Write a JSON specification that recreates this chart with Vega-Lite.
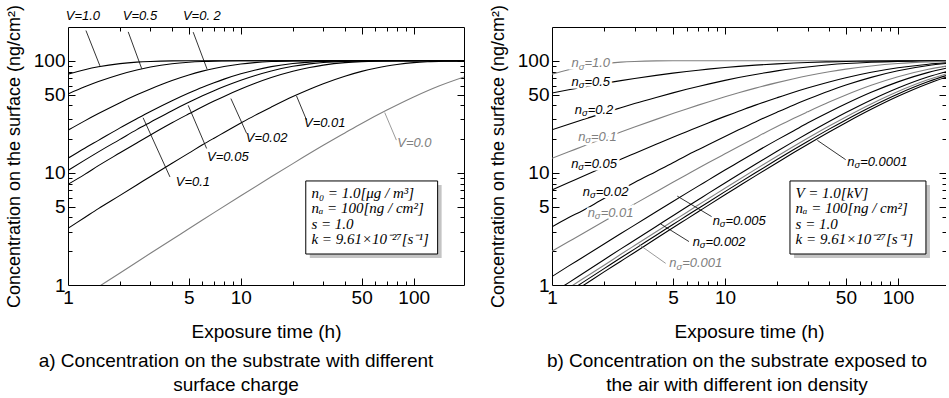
{
"$schema": "https://vega.github.io/schema/vega-lite/v6.json",
"padding": {"left": 5, "top": 4, "right": 0, "bottom": 0},
"config": {"view": {"stroke": null}, "axis": {"labelFont": "Liberation Sans", "titleFont": "Liberation Sans", "grid": false, "labelColor": "#000", "titleColor": "#000", "domainColor": "#000", "tickColor": "#000"}, "title": {"font": "Liberation Sans"}},
"spacing": 25,
"resolve": {"scale": {"x": "independent", "y": "independent", "color": "independent"}},
"datasets": {
"curvesA": [
{"series":"V=1.0","t":1,"v":76.0},{"series":"V=1.0","t":1.25,"v":83.2},{"series":"V=1.0","t":1.5,"v":88.3},{"series":"V=1.0","t":2,"v":94.3},{"series":"V=1.0","t":2.5,"v":97.2},{"series":"V=1.0","t":3,"v":98.6},{"series":"V=1.0","t":4,"v":99.7},{"series":"V=1.0","t":5,"v":99.9},{"series":"V=1.0","t":10,"v":100},{"series":"V=1.0","t":195.5,"v":100},
{"series":"V=0.5","t":1,"v":50.5},{"series":"V=0.5","t":1.25,"v":58.5},{"series":"V=0.5","t":1.5,"v":65.2},{"series":"V=0.5","t":2,"v":75.5},{"series":"V=0.5","t":2.5,"v":82.8},{"series":"V=0.5","t":3,"v":87.9},{"series":"V=0.5","t":4,"v":94.0},{"series":"V=0.5","t":5,"v":97.0},{"series":"V=0.5","t":6,"v":98.5},{"series":"V=0.5","t":7,"v":99.3},{"series":"V=0.5","t":8,"v":99.6},{"series":"V=0.5","t":10,"v":99.9},{"series":"V=0.5","t":15,"v":100},{"series":"V=0.5","t":195.5,"v":100},
{"series":"V=0.2","t":1,"v":24.0},{"series":"V=0.2","t":1.25,"v":29.1},{"series":"V=0.2","t":1.5,"v":33.8},{"series":"V=0.2","t":2,"v":42.3},{"series":"V=0.2","t":2.5,"v":49.7},{"series":"V=0.2","t":3,"v":56.1},{"series":"V=0.2","t":4,"v":66.7},{"series":"V=0.2","t":5,"v":74.7},{"series":"V=0.2","t":6,"v":80.8},{"series":"V=0.2","t":7,"v":85.4},{"series":"V=0.2","t":8,"v":88.9},{"series":"V=0.2","t":10,"v":93.6},{"series":"V=0.2","t":12,"v":96.3},{"series":"V=0.2","t":15,"v":98.4},{"series":"V=0.2","t":20,"v":99.6},{"series":"V=0.2","t":25,"v":99.9},{"series":"V=0.2","t":30,"v":100},{"series":"V=0.2","t":195.5,"v":100},
{"series":"V=0.1","t":1,"v":13.5},{"series":"V=0.1","t":1.25,"v":16.6},{"series":"V=0.1","t":1.5,"v":19.5},{"series":"V=0.1","t":2,"v":25.2},{"series":"V=0.1","t":2.5,"v":30.4},{"series":"V=0.1","t":3,"v":35.3},{"series":"V=0.1","t":4,"v":44.0},{"series":"V=0.1","t":5,"v":51.5},{"series":"V=0.1","t":6,"v":58.1},{"series":"V=0.1","t":7,"v":63.7},{"series":"V=0.1","t":8,"v":68.6},{"series":"V=0.1","t":10,"v":76.5},{"series":"V=0.1","t":12,"v":82.4},{"series":"V=0.1","t":15,"v":88.6},{"series":"V=0.1","t":20,"v":94.5},{"series":"V=0.1","t":25,"v":97.3},{"series":"V=0.1","t":30,"v":98.7},{"series":"V=0.1","t":40,"v":99.7},{"series":"V=0.1","t":50,"v":99.9},{"series":"V=0.1","t":60,"v":100},{"series":"V=0.1","t":195.5,"v":100},
{"series":"V=0.05","t":1,"v":10.5},{"series":"V=0.05","t":1.25,"v":13.0},{"series":"V=0.05","t":1.5,"v":15.4},{"series":"V=0.05","t":2,"v":19.9},{"series":"V=0.05","t":2.5,"v":24.3},{"series":"V=0.05","t":3,"v":28.3},{"series":"V=0.05","t":4,"v":35.9},{"series":"V=0.05","t":5,"v":42.6},{"series":"V=0.05","t":6,"v":48.7},{"series":"V=0.05","t":7,"v":54.1},{"series":"V=0.05","t":8,"v":58.9},{"series":"V=0.05","t":10,"v":67.1},{"series":"V=0.05","t":12,"v":73.6},{"series":"V=0.05","t":15,"v":81.1},{"series":"V=0.05","t":20,"v":89.2},{"series":"V=0.05","t":25,"v":93.8},{"series":"V=0.05","t":30,"v":96.4},{"series":"V=0.05","t":40,"v":98.8},{"series":"V=0.05","t":50,"v":99.6},{"series":"V=0.05","t":60,"v":99.9},{"series":"V=0.05","t":80,"v":100},{"series":"V=0.05","t":195.5,"v":100},
{"series":"V=0.02","t":1,"v":7.9},{"series":"V=0.02","t":1.25,"v":9.7},{"series":"V=0.02","t":1.5,"v":11.6},{"series":"V=0.02","t":2,"v":15.1},{"series":"V=0.02","t":2.5,"v":18.5},{"series":"V=0.02","t":3,"v":21.8},{"series":"V=0.02","t":4,"v":28.0},{"series":"V=0.02","t":5,"v":33.6},{"series":"V=0.02","t":6,"v":38.9},{"series":"V=0.02","t":7,"v":43.7},{"series":"V=0.02","t":8,"v":48.1},{"series":"V=0.02","t":10,"v":55.9},{"series":"V=0.02","t":12,"v":62.6},{"series":"V=0.02","t":15,"v":70.8},{"series":"V=0.02","t":20,"v":80.6},{"series":"V=0.02","t":25,"v":87.1},{"series":"V=0.02","t":30,"v":91.4},{"series":"V=0.02","t":40,"v":96.2},{"series":"V=0.02","t":50,"v":98.3},{"series":"V=0.02","t":60,"v":99.3},{"series":"V=0.02","t":70,"v":99.7},{"series":"V=0.02","t":80,"v":99.9},{"series":"V=0.02","t":100,"v":100},{"series":"V=0.02","t":195.5,"v":100},
{"series":"V=0.01","t":1,"v":3.2},{"series":"V=0.01","t":1.25,"v":4.0},{"series":"V=0.01","t":1.5,"v":4.8},{"series":"V=0.01","t":2,"v":6.3},{"series":"V=0.01","t":2.5,"v":7.8},{"series":"V=0.01","t":3,"v":9.3},{"series":"V=0.01","t":4,"v":12.2},{"series":"V=0.01","t":5,"v":15.0},{"series":"V=0.01","t":6,"v":17.8},{"series":"V=0.01","t":7,"v":20.4},{"series":"V=0.01","t":8,"v":22.9},{"series":"V=0.01","t":10,"v":27.8},{"series":"V=0.01","t":12,"v":32.4},{"series":"V=0.01","t":15,"v":38.6},{"series":"V=0.01","t":20,"v":47.9},{"series":"V=0.01","t":25,"v":55.7},{"series":"V=0.01","t":30,"v":62.4},{"series":"V=0.01","t":40,"v":72.8},{"series":"V=0.01","t":50,"v":80.4},{"series":"V=0.01","t":60,"v":85.8},{"series":"V=0.01","t":70,"v":89.8},{"series":"V=0.01","t":80,"v":92.6},{"series":"V=0.01","t":100,"v":96.2},{"series":"V=0.01","t":120,"v":98.0},{"series":"V=0.01","t":150,"v":99.2},{"series":"V=0.01","t":195.5,"v":99.8},
{"series":"V=0.0","t":1,"v":0.643},{"series":"V=0.0","t":1.5,"v":0.963},{"series":"V=0.0","t":2,"v":1.28},{"series":"V=0.0","t":3,"v":1.92},{"series":"V=0.0","t":4,"v":2.55},{"series":"V=0.0","t":5,"v":3.17},{"series":"V=0.0","t":7,"v":4.42},{"series":"V=0.0","t":10,"v":6.25},{"series":"V=0.0","t":15,"v":9.22},{"series":"V=0.0","t":20,"v":12.1},{"series":"V=0.0","t":30,"v":17.6},{"series":"V=0.0","t":40,"v":22.7},{"series":"V=0.0","t":50,"v":27.6},{"series":"V=0.0","t":70,"v":36.3},{"series":"V=0.0","t":100,"v":47.5},{"series":"V=0.0","t":140,"v":59.5},{"series":"V=0.0","t":195.5,"v":71.7}
],
"labelsA": [
{"series":"V=1.0","label":"V=1.0","t":1.22,"v":253},
{"series":"V=0.5","label":"V=0.5","t":2.61,"v":253},
{"series":"V=0.2","label":"V=0. 2","t":5.95,"v":253},
{"series":"V=0.1","label":"V=0.1","t":5.28,"v":8.22},
{"series":"V=0.05","label":"V=0.05","t":8.41,"v":13.8},
{"series":"V=0.02","label":"V=0.02","t":14.1,"v":20.4},
{"series":"V=0.01","label":"V=0.01","t":30.6,"v":27.8},
{"series":"V=0.0","label":"V=0.0","t":101,"v":18.4}
],
"leadersA": [
{"series":"V=1.0","t":1.27,"v":186,"t2":1.53,"v2":90},
{"series":"V=0.5","t":2.23,"v":181,"t2":2.67,"v2":85},
{"series":"V=0.2","t":5.3,"v":180,"t2":6.38,"v2":84},
{"series":"V=0.1","t":3.89,"v":9.2,"t2":2.72,"v2":31},
{"series":"V=0.05","t":6.34,"v":16.5,"t2":4.96,"v2":40},
{"series":"V=0.02","t":10.8,"v":22.5,"t2":8.76,"v2":46},
{"series":"V=0.01","t":24,"v":29.6,"t2":21,"v2":48.5},
{"series":"V=0.0","t":79.4,"v":19.6,"t2":68,"v2":34.5}
],
"curvesB": [
{"series":"n=1.0","t":1,"v":76.0},{"series":"n=1.0","t":1.25,"v":83.2},{"series":"n=1.0","t":1.5,"v":88.3},{"series":"n=1.0","t":2,"v":94.3},{"series":"n=1.0","t":2.5,"v":97.2},{"series":"n=1.0","t":3,"v":98.6},{"series":"n=1.0","t":4,"v":99.7},{"series":"n=1.0","t":5,"v":99.9},{"series":"n=1.0","t":10,"v":100},{"series":"n=1.0","t":189.5,"v":100},
{"series":"n=0.5","t":1,"v":51.5},{"series":"n=0.5","t":1.25,"v":55.1},{"series":"n=0.5","t":1.5,"v":58.0},{"series":"n=0.5","t":2,"v":62.8},{"series":"n=0.5","t":2.5,"v":66.5},{"series":"n=0.5","t":3,"v":69.5},{"series":"n=0.5","t":4,"v":74.1},{"series":"n=0.5","t":5,"v":77.5},{"series":"n=0.5","t":6,"v":80.2},{"series":"n=0.5","t":7,"v":82.4},{"series":"n=0.5","t":8,"v":84.2},{"series":"n=0.5","t":10,"v":87.0},{"series":"n=0.5","t":12,"v":89.1},{"series":"n=0.5","t":15,"v":91.4},{"series":"n=0.5","t":20,"v":93.8},{"series":"n=0.5","t":25,"v":95.4},{"series":"n=0.5","t":30,"v":96.5},{"series":"n=0.5","t":40,"v":97.8},{"series":"n=0.5","t":50,"v":98.5},{"series":"n=0.5","t":70,"v":99.25},{"series":"n=0.5","t":100,"v":99.7},{"series":"n=0.5","t":150,"v":99.9},{"series":"n=0.5","t":189.5,"v":100},
{"series":"n=0.2","t":1,"v":24.2},{"series":"n=0.2","t":1.25,"v":27.1},{"series":"n=0.2","t":1.5,"v":29.8},{"series":"n=0.2","t":2,"v":34.3},{"series":"n=0.2","t":2.5,"v":38.1},{"series":"n=0.2","t":3,"v":41.5},{"series":"n=0.2","t":4,"v":47.1},{"series":"n=0.2","t":5,"v":51.7},{"series":"n=0.2","t":6,"v":55.6},{"series":"n=0.2","t":7,"v":59.0},{"series":"n=0.2","t":8,"v":61.9},{"series":"n=0.2","t":10,"v":66.8},{"series":"n=0.2","t":12,"v":70.8},{"series":"n=0.2","t":15,"v":75.5},{"series":"n=0.2","t":20,"v":81.2},{"series":"n=0.2","t":25,"v":85.2},{"series":"n=0.2","t":30,"v":88.1},{"series":"n=0.2","t":40,"v":92.1},{"series":"n=0.2","t":50,"v":94.5},{"series":"n=0.2","t":70,"v":97.1},{"series":"n=0.2","t":100,"v":98.8},{"series":"n=0.2","t":150,"v":99.6},{"series":"n=0.2","t":189.5,"v":99.8},
{"series":"n=0.1","t":1,"v":13.5},{"series":"n=0.1","t":1.25,"v":15.4},{"series":"n=0.1","t":1.5,"v":17.2},{"series":"n=0.1","t":2,"v":20.3},{"series":"n=0.1","t":2.5,"v":23.1},{"series":"n=0.1","t":3,"v":25.6},{"series":"n=0.1","t":4,"v":30.0},{"series":"n=0.1","t":5,"v":33.8},{"series":"n=0.1","t":6,"v":37.2},{"series":"n=0.1","t":7,"v":40.2},{"series":"n=0.1","t":8,"v":42.9},{"series":"n=0.1","t":10,"v":47.7},{"series":"n=0.1","t":12,"v":51.8},{"series":"n=0.1","t":15,"v":57.0},{"series":"n=0.1","t":20,"v":63.8},{"series":"n=0.1","t":25,"v":69.1},{"series":"n=0.1","t":30,"v":73.4},{"series":"n=0.1","t":40,"v":79.7},{"series":"n=0.1","t":50,"v":84.2},{"series":"n=0.1","t":70,"v":89.9},{"series":"n=0.1","t":100,"v":94.5},{"series":"n=0.1","t":150,"v":97.7},{"series":"n=0.1","t":189.5,"v":98.75},
{"series":"n=0.05","t":1,"v":7.05},{"series":"n=0.05","t":1.25,"v":8.2},{"series":"n=0.05","t":1.5,"v":9.3},{"series":"n=0.05","t":2,"v":11.3},{"series":"n=0.05","t":2.5,"v":13.2},{"series":"n=0.05","t":3,"v":14.9},{"series":"n=0.05","t":4,"v":18.0},{"series":"n=0.05","t":5,"v":20.8},{"series":"n=0.05","t":6,"v":23.3},{"series":"n=0.05","t":7,"v":25.7},{"series":"n=0.05","t":8,"v":27.9},{"series":"n=0.05","t":10,"v":31.9},{"series":"n=0.05","t":12,"v":35.4},{"series":"n=0.05","t":15,"v":40.2},{"series":"n=0.05","t":20,"v":46.8},{"series":"n=0.05","t":25,"v":52.4},{"series":"n=0.05","t":30,"v":57.1},{"series":"n=0.05","t":40,"v":64.7},{"series":"n=0.05","t":50,"v":70.5},{"series":"n=0.05","t":70,"v":78.9},{"series":"n=0.05","t":100,"v":86.6},{"series":"n=0.05","t":150,"v":93.2},{"series":"n=0.05","t":189.5,"v":95.9},
{"series":"n=0.02","t":1,"v":3.3},{"series":"n=0.02","t":1.25,"v":4.0},{"series":"n=0.02","t":1.5,"v":4.6},{"series":"n=0.02","t":2,"v":5.9},{"series":"n=0.02","t":2.5,"v":7.05},{"series":"n=0.02","t":3,"v":8.2},{"series":"n=0.02","t":4,"v":10.3},{"series":"n=0.02","t":5,"v":12.3},{"series":"n=0.02","t":6,"v":14.3},{"series":"n=0.02","t":7,"v":16.1},{"series":"n=0.02","t":8,"v":17.8},{"series":"n=0.02","t":10,"v":21.1},{"series":"n=0.02","t":12,"v":24.2},{"series":"n=0.02","t":15,"v":28.5},{"series":"n=0.02","t":20,"v":34.8},{"series":"n=0.02","t":25,"v":40.4},{"series":"n=0.02","t":30,"v":45.3},{"series":"n=0.02","t":40,"v":53.8},{"series":"n=0.02","t":50,"v":60.7},{"series":"n=0.02","t":70,"v":71.1},{"series":"n=0.02","t":100,"v":81.4},{"series":"n=0.02","t":150,"v":90.7},{"series":"n=0.02","t":189.5,"v":94.5},
{"series":"n=0.01","t":1,"v":2.0},{"series":"n=0.01","t":1.25,"v":2.44},{"series":"n=0.01","t":1.5,"v":2.87},{"series":"n=0.01","t":2,"v":3.70},{"series":"n=0.01","t":2.5,"v":4.50},{"series":"n=0.01","t":3,"v":5.28},{"series":"n=0.01","t":4,"v":6.79},{"series":"n=0.01","t":5,"v":8.24},{"series":"n=0.01","t":6,"v":9.63},{"series":"n=0.01","t":7,"v":10.99},{"series":"n=0.01","t":8,"v":12.3},{"series":"n=0.01","t":10,"v":14.8},{"series":"n=0.01","t":12,"v":17.2},{"series":"n=0.01","t":15,"v":20.6},{"series":"n=0.01","t":20,"v":25.9},{"series":"n=0.01","t":25,"v":30.7},{"series":"n=0.01","t":30,"v":35.0},{"series":"n=0.01","t":40,"v":42.8},{"series":"n=0.01","t":50,"v":49.5},{"series":"n=0.01","t":70,"v":60.4},{"series":"n=0.01","t":100,"v":72.0},{"series":"n=0.01","t":150,"v":84.0},{"series":"n=0.01","t":189.5,"v":89.6},
{"series":"n=0.005","t":1,"v":1.19},{"series":"n=0.005","t":1.25,"v":1.48},{"series":"n=0.005","t":1.5,"v":1.76},{"series":"n=0.005","t":2,"v":2.32},{"series":"n=0.005","t":2.5,"v":2.88},{"series":"n=0.005","t":3,"v":3.42},{"series":"n=0.005","t":4,"v":4.50},{"series":"n=0.005","t":5,"v":5.56},{"series":"n=0.005","t":6,"v":6.60},{"series":"n=0.005","t":7,"v":7.62},{"series":"n=0.005","t":8,"v":8.62},{"series":"n=0.005","t":10,"v":10.6},{"series":"n=0.005","t":12,"v":12.5},{"series":"n=0.005","t":15,"v":15.3},{"series":"n=0.005","t":20,"v":19.7},{"series":"n=0.005","t":25,"v":23.8},{"series":"n=0.005","t":30,"v":27.8},{"series":"n=0.005","t":40,"v":34.9},{"series":"n=0.005","t":50,"v":41.3},{"series":"n=0.005","t":70,"v":52.3},{"series":"n=0.005","t":100,"v":64.8},{"series":"n=0.005","t":150,"v":78.8},{"series":"n=0.005","t":189.5,"v":85.7},
{"series":"n=0.002","t":1,"v":0.844},{"series":"n=0.002","t":1.25,"v":1.05},{"series":"n=0.002","t":1.5,"v":1.26},{"series":"n=0.002","t":2,"v":1.68},{"series":"n=0.002","t":2.5,"v":2.10},{"series":"n=0.002","t":3,"v":2.51},{"series":"n=0.002","t":4,"v":3.33},{"series":"n=0.002","t":5,"v":4.15},{"series":"n=0.002","t":6,"v":4.96},{"series":"n=0.002","t":7,"v":5.76},{"series":"n=0.002","t":8,"v":6.56},{"series":"n=0.002","t":10,"v":8.12},{"series":"n=0.002","t":12,"v":9.67},{"series":"n=0.002","t":15,"v":11.94},{"series":"n=0.002","t":20,"v":15.59},{"series":"n=0.002","t":25,"v":19.09},{"series":"n=0.002","t":30,"v":22.45},{"series":"n=0.002","t":40,"v":28.75},{"series":"n=0.002","t":50,"v":34.54},{"series":"n=0.002","t":70,"v":44.75},{"series":"n=0.002","t":100,"v":57.15},{"series":"n=0.002","t":150,"v":71.95},{"series":"n=0.002","t":189.5,"v":79.93},
{"series":"n=0.001","t":1,"v":0.755},{"series":"n=0.001","t":1.5,"v":1.13},{"series":"n=0.001","t":2,"v":1.50},{"series":"n=0.001","t":2.5,"v":1.88},{"series":"n=0.001","t":3,"v":2.25},{"series":"n=0.001","t":4,"v":2.98},{"series":"n=0.001","t":5,"v":3.72},{"series":"n=0.001","t":6,"v":4.44},{"series":"n=0.001","t":7,"v":5.17},{"series":"n=0.001","t":8,"v":5.88},{"series":"n=0.001","t":10,"v":7.30},{"series":"n=0.001","t":12,"v":8.69},{"series":"n=0.001","t":15,"v":10.74},{"series":"n=0.001","t":20,"v":14.06},{"series":"n=0.001","t":25,"v":17.26},{"series":"n=0.001","t":30,"v":20.33},{"series":"n=0.001","t":40,"v":26.14},{"series":"n=0.001","t":50,"v":31.53},{"series":"n=0.001","t":70,"v":41.16},{"series":"n=0.001","t":100,"v":53.13},{"series":"n=0.001","t":150,"v":67.9},{"series":"n=0.001","t":189.5,"v":76.21},
{"series":"n=0.0005","t":1,"v":0.70},{"series":"n=0.0005","t":1.5,"v":1.05},{"series":"n=0.0005","t":2,"v":1.40},{"series":"n=0.0005","t":2.5,"v":1.75},{"series":"n=0.0005","t":3,"v":2.09},{"series":"n=0.0005","t":4,"v":2.78},{"series":"n=0.0005","t":5,"v":3.46},{"series":"n=0.0005","t":6,"v":4.14},{"series":"n=0.0005","t":7,"v":4.81},{"series":"n=0.0005","t":8,"v":5.48},{"series":"n=0.0005","t":10,"v":6.80},{"series":"n=0.0005","t":12,"v":8.10},{"series":"n=0.0005","t":15,"v":10.02},{"series":"n=0.0005","t":20,"v":13.14},{"series":"n=0.0005","t":25,"v":16.14},{"series":"n=0.0005","t":30,"v":19.04},{"series":"n=0.0005","t":40,"v":24.55},{"series":"n=0.0005","t":50,"v":29.68},{"series":"n=0.0005","t":70,"v":38.92},{"series":"n=0.0005","t":100,"v":50.55},{"series":"n=0.0005","t":150,"v":65.23},{"series":"n=0.0005","t":189.5,"v":73.67},
{"series":"n=0.0001","t":1,"v":0.656},{"series":"n=0.0001","t":1.5,"v":0.98},{"series":"n=0.0001","t":2,"v":1.31},{"series":"n=0.0001","t":2.5,"v":1.63},{"series":"n=0.0001","t":3,"v":1.95},{"series":"n=0.0001","t":4,"v":2.60},{"series":"n=0.0001","t":5,"v":3.24},{"series":"n=0.0001","t":6,"v":3.87},{"series":"n=0.0001","t":7,"v":4.50},{"series":"n=0.0001","t":8,"v":5.13},{"series":"n=0.0001","t":10,"v":6.37},{"series":"n=0.0001","t":12,"v":7.59},{"series":"n=0.0001","t":15,"v":9.40},{"series":"n=0.0001","t":20,"v":12.33},{"series":"n=0.0001","t":25,"v":15.17},{"series":"n=0.0001","t":30,"v":17.91},{"series":"n=0.0001","t":40,"v":23.14},{"series":"n=0.0001","t":50,"v":28.03},{"series":"n=0.0001","t":70,"v":36.9},{"series":"n=0.0001","t":100,"v":48.21},{"series":"n=0.0001","t":150,"v":62.73},{"series":"n=0.0001","t":189.5,"v":71.25}
],
"labelsB": [
{"series":"n=1.0","rest":"=1.0","t":1.481,"v":95.3},
{"series":"n=0.5","rest":"=0.5","t":1.481,"v":65.3},
{"series":"n=0.2","rest":"=0.2","t":1.547,"v":36.5},
{"series":"n=0.1","rest":"=0.1","t":1.617,"v":21.1},
{"series":"n=0.05","rest":"=0.05","t":1.475,"v":12.0},
{"series":"n=0.02","rest":"=0.02","t":1.720,"v":6.81},
{"series":"n=0.01","rest":"=0.01","t":1.838,"v":4.42},
{"series":"n=0.005","rest":"=0.005","t":9.686,"v":3.75},
{"series":"n=0.002","rest":"=0.002","t":7.419,"v":2.44},
{"series":"n=0.001","rest":"=0.001","t":5.442,"v":1.56},
{"series":"n=0.0001","rest":"=0.0001","t":58.15,"v":12.6}
],
"leadersB": [
{"series":"n=0.005","t":5.30,"v":6.2,"t2":8.38,"v2":4.07},
{"series":"n=0.002","t":4.25,"v":3.5,"t2":6.19,"v2":2.44},
{"series":"n=0.001","t":3.18,"v":2.3,"t2":4.54,"v2":1.56},
{"series":"n=0.0001","t":34.2,"v":19.5,"t2":49.9,"v2":13.1}
]
},
"hconcat": [
{
"width": 396, "height": 258,
"title": {"text": ["a) Concentration on the substrate with different", "surface charge"], "orient": "bottom", "anchor": "middle", "frame": "group", "dx": -30, "fontSize": 19, "fontWeight": "normal", "color": "#000", "lineHeight": 24, "offset": 11},
"resolve": {"axis": {"x": "independent", "y": "independent"}},
"layer": [
{"data": {"name": "curvesA"},
 "mark": {"type": "line", "clip": true, "strokeWidth": 1.1, "interpolate": "monotone"},
 "encoding": {
  "x": {"field": "t", "type": "quantitative", "scale": {"type": "log", "domain": [1, 195.5], "nice": false},
        "axis": {"orient": "bottom", "values": [1,5,10,50,100], "format": "d", "ticks": false, "domain": true, "domainWidth": 1, "labelFontSize": 19, "labelPadding": 3, "labelFlush": false, "labelOverlap": false, "title": "Exposure time (h)", "titleFontSize": 19, "titleFontWeight": "normal", "titlePadding": 15}},
  "y": {"field": "v", "type": "quantitative", "scale": {"type": "log", "domain": [1, 200], "nice": false},
        "axis": {"orient": "left", "values": [1,5,10,50,100], "format": "d", "ticks": false, "domain": true, "domainWidth": 1, "labelFontSize": 19, "labelPadding": 3, "labelFlush": false, "labelOverlap": false, "title": "Concentration on the surface (ng/cm²)", "titleFontSize": 18, "titleFontWeight": "normal", "titlePadding": 10}},
  "color": {"field": "series", "type": "nominal", "legend": null, "scale": {"domain": ["V=1.0","V=0.5","V=0.2","V=0.1","V=0.05","V=0.02","V=0.01","V=0.0"], "range": ["#000","#000","#000","#000","#000","#000","#000","#808080"]}}
 }},
{"data": {"name": "leadersA"},
 "mark": {"type": "rule", "strokeWidth": 0.8},
 "encoding": {
  "x": {"field": "t", "type": "quantitative", "axis": {"orient": "bottom", "values": [5,10,50,100], "labels": false, "domain": false, "ticks": false, "grid": true, "gridColor": "#000", "gridOpacity": 1, "gridWidth": 1, "gridDash": [7,244,7,0], "title": null}},
  "y": {"field": "v", "type": "quantitative", "axis": {"orient": "left", "values": [5,10,50,100], "labels": false, "domain": false, "ticks": false, "grid": true, "gridColor": "#000", "gridOpacity": 1, "gridWidth": 1, "gridDash": [7,382,7,0], "title": null}},
  "x2": {"field": "t2"}, "y2": {"field": "v2"},
  "color": {"field": "series", "type": "nominal", "legend": null}
 }},
{"data": {"name": "labelsA"},
 "mark": {"type": "text", "font": "Liberation Sans", "fontStyle": "italic", "fontSize": 13, "align": "center", "baseline": "middle"},
 "encoding": {
  "x": {"field": "t", "type": "quantitative", "axis": {"orient": "bottom", "values": [2,3,4,6,7,8,9,20,30,40,60,70,80,90], "labels": false, "domain": false, "ticks": false, "grid": true, "gridColor": "#000", "gridOpacity": 1, "gridWidth": 1, "gridDash": [4,250,4,0], "title": null}},
  "y": {"field": "v", "type": "quantitative", "axis": {"orient": "left", "values": [2,3,4,6,7,8,9,20,30,40,60,70,80,90], "labels": false, "domain": false, "ticks": false, "grid": true, "gridColor": "#000", "gridOpacity": 1, "gridWidth": 1, "gridDash": [4,388,4,0], "title": null}},
  "text": {"field": "label"},
  "color": {"field": "series", "type": "nominal", "legend": null}
 }},
{"data": {"values": [{}]},
 "mark": {"type": "rect", "color": "#c4c4c4"},
 "encoding": {
  "x": {"datum": 25.05, "type": "quantitative", "axis": null},
  "x2": {"datum": 145.1},
  "y": {"datum": 7.80, "type": "quantitative", "axis": null},
  "y2": {"datum": 1.74}
 }},
{"data": {"values": [{}]},
 "mark": {"type": "rect", "fill": "#fff", "stroke": "#000", "strokeWidth": 1},
 "encoding": {
  "x": {"datum": 23.75, "type": "quantitative", "axis": null},
  "x2": {"datum": 137.6},
  "y": {"datum": 8.47, "type": "quantitative", "axis": null},
  "y2": {"datum": 1.89}
 }},
{"data": {"values": [{}]},
 "mark": {"type": "text", "text": ["n₀ = 1.0[μg / m³]", "nₐ = 100[ng / cm²]", "s = 1.0", "k = 9.61×10⁻²⁷[s⁻¹]"], "font": "Liberation Serif", "fontStyle": "italic", "fontSize": 15, "lineHeight": 15.3, "align": "left", "baseline": "middle", "color": "#000"},
 "encoding": {
  "x": {"datum": 25.6, "type": "quantitative", "axis": {"orient": "top", "values": [1], "labels": false, "ticks": false, "domain": true, "domainWidth": 1, "title": null}},
  "y": {"datum": 6.62, "type": "quantitative", "axis": {"orient": "right", "values": [1], "labels": false, "ticks": false, "domain": true, "domainWidth": 1, "title": null}}
 }}
]
},
{
"width": 394, "height": 258,
"title": {"text": ["b) Concentration on the substrate exposed to", "the air with different ion density"], "orient": "bottom", "anchor": "middle", "frame": "group", "dx": -12, "fontSize": 19, "fontWeight": "normal", "color": "#000", "lineHeight": 24, "offset": 11},
"resolve": {"axis": {"x": "independent", "y": "independent"}},
"layer": [
{"data": {"name": "curvesB"},
 "mark": {"type": "line", "clip": true, "strokeWidth": 1.1, "interpolate": "monotone"},
 "encoding": {
  "x": {"field": "t", "type": "quantitative", "scale": {"type": "log", "domain": [1, 189.5], "nice": false},
        "axis": {"orient": "bottom", "values": [1,5,10,50,100], "format": "d", "ticks": false, "domain": true, "domainWidth": 1, "labelFontSize": 19, "labelPadding": 3, "labelFlush": false, "labelOverlap": false, "title": "Exposure time (h)", "titleFontSize": 19, "titleFontWeight": "normal", "titlePadding": 15}},
  "y": {"field": "v", "type": "quantitative", "scale": {"type": "log", "domain": [1, 200], "nice": false},
        "axis": {"orient": "left", "values": [1,5,10,50,100], "format": "d", "ticks": false, "domain": true, "domainWidth": 1, "labelFontSize": 19, "labelPadding": 3, "labelFlush": false, "labelOverlap": false, "title": "Concentration on the surface (ng/cm²)", "titleFontSize": 18, "titleFontWeight": "normal", "titlePadding": 10}},
  "color": {"field": "series", "type": "nominal", "legend": null, "scale": {"domain": ["n=1.0","n=0.5","n=0.2","n=0.1","n=0.05","n=0.02","n=0.01","n=0.005","n=0.002","n=0.001","n=0.0005","n=0.0001"], "range": ["#808080","#000","#000","#808080","#000","#000","#808080","#000","#000","#808080","#000","#000"]}}
 }},
{"data": {"name": "leadersB"},
 "mark": {"type": "rule", "strokeWidth": 0.8},
 "encoding": {
  "x": {"field": "t", "type": "quantitative", "axis": {"orient": "bottom", "values": [5,10,50,100], "labels": false, "domain": false, "ticks": false, "grid": true, "gridColor": "#000", "gridOpacity": 1, "gridWidth": 1, "gridDash": [7,244,7,0], "title": null}},
  "y": {"field": "v", "type": "quantitative", "axis": {"orient": "left", "values": [5,10,50,100], "labels": false, "domain": false, "ticks": false, "grid": true, "gridColor": "#000", "gridOpacity": 1, "gridWidth": 1, "gridDash": [7,380,7,0], "title": null}},
  "x2": {"field": "t2"}, "y2": {"field": "v2"},
  "color": {"field": "series", "type": "nominal", "legend": null}
 }},
{"data": {"name": "labelsB"},
 "mark": {"type": "text", "text": "n", "font": "Liberation Sans", "fontStyle": "italic", "fontSize": 13, "align": "right", "baseline": "middle", "dx": -2.7, "fill": "#fff", "stroke": "#fff", "strokeWidth": 5},
 "encoding": {"x": {"field": "t", "type": "quantitative", "axis": null}, "y": {"field": "v", "type": "quantitative", "axis": null}}},
{"data": {"name": "labelsB"},
 "mark": {"type": "text", "text": "σ", "font": "Liberation Sans", "fontStyle": "italic", "fontSize": 9.5, "align": "center", "baseline": "middle", "dy": 3.5, "fill": "#fff", "stroke": "#fff", "strokeWidth": 5},
 "encoding": {"x": {"field": "t", "type": "quantitative", "axis": null}, "y": {"field": "v", "type": "quantitative", "axis": null}}},
{"data": {"name": "labelsB"},
 "mark": {"type": "text", "font": "Liberation Sans", "fontStyle": "italic", "fontSize": 13, "align": "left", "baseline": "middle", "dx": 2.9, "fill": "#fff", "stroke": "#fff", "strokeWidth": 5},
 "encoding": {"x": {"field": "t", "type": "quantitative", "axis": null}, "y": {"field": "v", "type": "quantitative", "axis": null}, "text": {"field": "rest"}}},
{"data": {"name": "labelsB"},
 "mark": {"type": "text", "text": "n", "font": "Liberation Sans", "fontStyle": "italic", "fontSize": 13, "align": "right", "baseline": "middle", "dx": -2.7},
 "encoding": {
  "x": {"field": "t", "type": "quantitative", "axis": {"orient": "bottom", "values": [2,3,4,6,7,8,9,20,30,40,60,70,80,90], "labels": false, "domain": false, "ticks": false, "grid": true, "gridColor": "#000", "gridOpacity": 1, "gridWidth": 1, "gridDash": [4,250,4,0], "title": null}},
  "y": {"field": "v", "type": "quantitative", "axis": {"orient": "left", "values": [2,3,4,6,7,8,9,20,30,40,60,70,80,90], "labels": false, "domain": false, "ticks": false, "grid": true, "gridColor": "#000", "gridOpacity": 1, "gridWidth": 1, "gridDash": [4,386,4,0], "title": null}},
  "color": {"field": "series", "type": "nominal", "legend": null}
 }},
{"data": {"name": "labelsB"},
 "mark": {"type": "text", "text": "σ", "font": "Liberation Sans", "fontStyle": "italic", "fontSize": 9.5, "align": "center", "baseline": "middle", "dy": 3.5},
 "encoding": {"x": {"field": "t", "type": "quantitative", "axis": null}, "y": {"field": "v", "type": "quantitative", "axis": null}, "color": {"field": "series", "type": "nominal", "legend": null}}},
{"data": {"name": "labelsB"},
 "mark": {"type": "text", "font": "Liberation Sans", "fontStyle": "italic", "fontSize": 13, "align": "left", "baseline": "middle", "dx": 2.9},
 "encoding": {"x": {"field": "t", "type": "quantitative", "axis": null}, "y": {"field": "v", "type": "quantitative", "axis": null}, "text": {"field": "rest"}, "color": {"field": "series", "type": "nominal", "legend": null}}},
{"data": {"values": [{}]},
 "mark": {"type": "rect", "color": "#c4c4c4"},
 "encoding": {
  "x": {"datum": 25.05, "type": "quantitative", "axis": null},
  "x2": {"datum": 153},
  "y": {"datum": 7.80, "type": "quantitative", "axis": null},
  "y2": {"datum": 1.74}
 }},
{"data": {"values": [{}]},
 "mark": {"type": "rect", "fill": "#fff", "stroke": "#000", "strokeWidth": 1},
 "encoding": {
  "x": {"datum": 23.75, "type": "quantitative", "axis": null},
  "x2": {"datum": 145.1},
  "y": {"datum": 8.47, "type": "quantitative", "axis": null},
  "y2": {"datum": 1.89}
 }},
{"data": {"values": [{}]},
 "mark": {"type": "text", "text": ["V = 1.0[kV]", "nₐ = 100[ng / cm²]", "s = 1.0", "k = 9.61×10⁻²⁷[s⁻¹]"], "font": "Liberation Serif", "fontStyle": "italic", "fontSize": 15, "lineHeight": 15.3, "align": "left", "baseline": "middle", "color": "#000"},
 "encoding": {
  "x": {"datum": 25.6, "type": "quantitative", "axis": {"orient": "top", "values": [1], "labels": false, "ticks": false, "domain": true, "domainWidth": 1, "title": null}},
  "y": {"datum": 6.62, "type": "quantitative", "axis": {"orient": "right", "values": [1], "labels": false, "ticks": false, "domain": true, "domainWidth": 1, "title": null}}
 }}
]
}
]
}
